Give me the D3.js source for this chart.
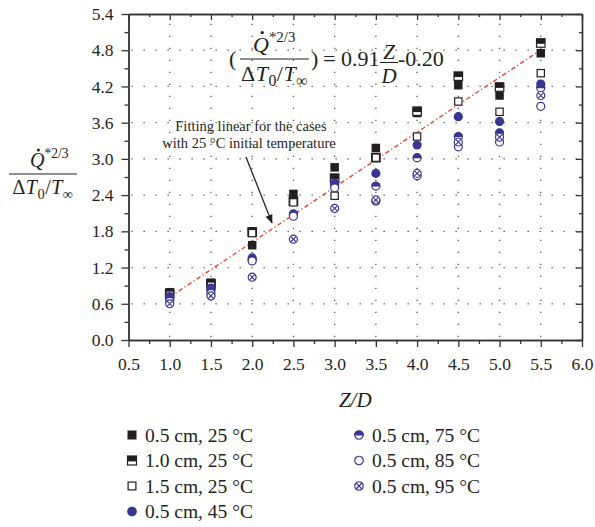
<!DOCTYPE html>
<html>
<head>
<meta charset="utf-8">
<script src="https://cdn.jsdelivr.net/npm/d3@7"></script>
<style>
  body { margin: 0; background: #fff; }
  text { font-family: "Liberation Serif", "DejaVu Serif", serif; fill: #231f20; }
</style>
</head>
<body>
<div id="chart"></div>
<script>
// Z/D positions and the seven series
const zd = [1.0, 1.5, 2.0, 2.5, 3.0, 3.5, 4.0, 4.5, 5.0, 5.5];
const s05c25 = [0.79, 0.95, 1.57, 2.42, 2.86, 3.18, 3.76, 4.22, 4.05, 4.75];
const s10c25 = [0.77, 0.93, 1.79, 2.30, 2.68, 3.02, 3.79, 4.37, 4.19, 4.92];
const s15c25 = [0.75, 0.90, 1.77, 2.28, 2.39, 3.02, 3.37, 3.95, 3.78, 4.42];
const s05c45 = [0.72, 0.86, 1.36, 2.09, 2.60, 2.76, 3.23, 3.70, 3.62, 4.24];
const s05c75 = [0.68, 0.82, 1.33, 2.07, 2.57, 2.55, 3.02, 3.37, 3.43, 4.18];
const s05c85 = [0.64, 0.77, 1.31, 2.05, 2.52, 2.30, 2.72, 3.20, 3.28, 3.87];
const s05c95 = [0.60, 0.73, 1.04, 1.67, 2.18, 2.32, 2.76, 3.28, 3.36, 4.05];

const seriesLabels = ['0.5 cm, 25 °C', '1.0 cm, 25 °C', '1.5 cm, 25 °C', '0.5 cm, 45 °C',
                      '0.5 cm, 75 °C', '0.5 cm, 85 °C', '0.5 cm, 95 °C'];
const seriesMarkers = ['sq', 'sqHalf', 'sqOpen', 'ci', 'ciHalf', 'ciOpen', 'ciX'];
const seriesValues = [s05c25, s10c25, s15c25, s05c45, s05c75, s05c85, s05c95];

const xTicks = [0.5, 1.0, 1.5, 2.0, 2.5, 3.0, 3.5, 4.0, 4.5, 5.0, 5.5, 6.0];
const yTicks = [0.0, 0.6, 1.2, 1.8, 2.4, 3.0, 3.6, 4.2, 4.8, 5.4];

// fitted line: Q = 0.91 Z/D - 0.20, drawn over 1.0 .. 5.5
const fitSlope = 0.91, fitIntercept = -0.20;
const fitRange = [1.0, 5.5];

const BLACK = '#231f20';
const BLUE = '#3a3593';

const W = 595, H = 527;
const svg = d3.select('#chart').append('svg').attr('width', W).attr('height', H);

const x = d3.scaleLinear().domain([0.5, 6.0]).range([128.5, 582]);
const y = d3.scaleLinear().domain([0, 5.4]).range([340, 14]);

const xMinor = d3.range(0.75, 6.0, 0.5);
const yMinor = d3.range(0.3, 5.4, 0.6);

// dotted grid
const grid = svg.append('g').attr('stroke', '#555').attr('stroke-width', 1.3)
  .attr('stroke-dasharray', '1.3,10.7').attr('fill', 'none');
grid.selectAll('.gx').data(xTicks.slice(1, -1)).enter().append('line')
  .attr('x1', d => x(d)).attr('x2', d => x(d)).attr('y1', y(0) - 3).attr('y2', y(5.4));
grid.selectAll('.gy').data(yTicks.slice(1, -1)).enter().append('line')
  .attr('y1', d => y(d)).attr('y2', d => y(d)).attr('x1', x(0.5) + 3).attr('x2', x(6.0));

// axes (frame on four sides)
function styleAxis(g) {
  g.select('.domain').attr('stroke', '#333').attr('stroke-width', 1.4);
  g.selectAll('.tick line').attr('stroke', '#333').attr('stroke-width', 1.3);
  g.selectAll('.tick text').style('font-family', '"Liberation Serif", serif')
    .style('font-size', '17.5px').attr('fill', BLACK);
}
const fmt = d3.format('.1f');

svg.append('g').attr('transform', `translate(0,${y(0)})`)
  .call(d3.axisBottom(x).tickValues(xTicks).tickSize(7).tickSizeOuter(0).tickPadding(10).tickFormat(fmt))
  .call(styleAxis).call(g => g.selectAll('.tick text').attr('dy', '0.75em'));
svg.append('g').attr('transform', `translate(0,${y(0)})`)
  .call(d3.axisBottom(x).tickValues(xMinor).tickSize(4).tickSizeOuter(0).tickFormat(''))
  .call(styleAxis);

svg.append('g').attr('transform', `translate(${x(0.5)},0)`)
  .call(d3.axisLeft(y).tickValues(yTicks).tickSize(7).tickSizeOuter(0).tickPadding(8).tickFormat(fmt))
  .call(styleAxis);
svg.append('g').attr('transform', `translate(${x(0.5)},0)`)
  .call(d3.axisLeft(y).tickValues(yMinor).tickSize(4).tickSizeOuter(0).tickFormat(''))
  .call(styleAxis);

svg.append('g').attr('transform', `translate(0,${y(5.4)})`)
  .call(d3.axisTop(x).tickValues(xTicks).tickSize(-6).tickSizeOuter(0).tickFormat(''))
  .call(styleAxis);
svg.append('g').attr('transform', `translate(0,${y(5.4)})`)
  .call(d3.axisTop(x).tickValues(xMinor).tickSize(-3).tickSizeOuter(0).tickFormat(''))
  .call(styleAxis);

svg.append('g').attr('transform', `translate(${x(6.0)},0)`)
  .call(d3.axisRight(y).tickValues(yTicks).tickSize(-6).tickSizeOuter(0).tickFormat(''))
  .call(styleAxis);
svg.append('g').attr('transform', `translate(${x(6.0)},0)`)
  .call(d3.axisRight(y).tickValues(yMinor).tickSize(-3).tickSizeOuter(0).tickFormat(''))
  .call(styleAxis);

// x axis title
svg.append('text').attr('x', (x(0.5) + x(6.0)) / 2).attr('y', 407)
  .attr('text-anchor', 'middle').style('font-size', '21px').style('font-style', 'italic').text('Z/D');

// Q*2/3 over dT0/Tinf fraction
function qFraction(g, left, right, barY, fs, numX) {
  const cx = (left + right) / 2;
  const num = g.append('text').attr('y', barY - fs * 0.33).attr('x', numX)
    .style('font-size', fs + 'px');
  num.append('tspan').style('font-style', 'italic').text('Q');
  num.append('tspan').attr('dy', -fs * 0.45).style('font-size', (fs * 0.68) + 'px').text('*2/3');
  g.append('circle').attr('cx', numX + fs * 0.42).attr('cy', barY - fs * 1.2).attr('r', fs * 0.075).attr('fill', BLACK);
  g.append('line').attr('x1', left).attr('x2', right).attr('y1', barY).attr('y2', barY)
    .attr('stroke', BLACK).attr('stroke-width', 1.1);
  const den = g.append('text').attr('x', cx).attr('y', barY + fs * 1.02)
    .attr('text-anchor', 'middle').style('font-size', fs + 'px').style('letter-spacing', '0.5px');
  den.append('tspan').text('Δ');
  den.append('tspan').style('font-style', 'italic').text('T');
  den.append('tspan').attr('dy', fs * 0.22).style('font-size', (fs * 0.72) + 'px').text('0');
  den.append('tspan').attr('dy', -fs * 0.22).text('/');
  den.append('tspan').style('font-style', 'italic').text('T');
  den.append('tspan').attr('dy', fs * 0.22).style('font-size', (fs * 0.72) + 'px').text('∞');
}

// y axis label
qFraction(svg.append('g'), 9, 77, 174, 20, 30);

// equation in the plot
const eq = svg.append('g');
eq.append('text').attr('x', 229).attr('y', 66).style('font-size', '22px').text('(');
qFraction(eq, 240, 309, 59, 22, 253);
eq.append('text').attr('x', 311).attr('y', 66).style('font-size', '22px').text(')');
eq.append('text').attr('x', 323).attr('y', 66).style('font-size', '22px').text('= 0.91');
eq.append('text').attr('x', 389).attr('y', 59).attr('text-anchor', 'middle')
  .style('font-size', '21px').style('font-style', 'italic').text('Z');
eq.append('line').attr('x1', 380).attr('x2', 398).attr('y1', 62.5).attr('y2', 62.5)
  .attr('stroke', BLACK).attr('stroke-width', 1.1);
eq.append('text').attr('x', 389).attr('y', 83).attr('text-anchor', 'middle')
  .style('font-size', '21px').style('font-style', 'italic').text('D');
eq.append('text').attr('x', 398).attr('y', 66).style('font-size', '22px').text('-0.20');

// fitted line
svg.append('path')
  .datum(fitRange)
  .attr('fill', 'none').attr('stroke', '#e8482b').attr('stroke-width', 1.4)
  .attr('stroke-dasharray', '4.5,2.5,1.3,2.5')
  .attr('d', d3.line().x(d => x(d)).y(d => y(fitSlope * d + fitIntercept)));

// annotation + arrow
svg.append('defs').append('marker').attr('id', 'arrow').attr('viewBox', '0 0 10 10')
  .attr('refX', 9).attr('refY', 5).attr('markerWidth', 9).attr('markerHeight', 9)
  .attr('markerUnits', 'userSpaceOnUse').attr('orient', 'auto')
  .append('path').attr('d', 'M0,1 L10,5 L0,9 z').attr('fill', BLACK);
svg.append('text').attr('x', 251).attr('y', 131).attr('text-anchor', 'middle')
  .style('font-size', '14.5px').text('Fitting linear for the cases');
svg.append('text').attr('x', 249).attr('y', 148).attr('text-anchor', 'middle')
  .style('font-size', '14.5px').text('with 25 °C initial temperature');
svg.append('line')
  .attr('x1', x(1.925)).attr('y1', y(3.03)).attr('x2', x(2.24)).attr('y2', y(1.94))
  .attr('stroke', BLACK).attr('stroke-width', 1.3).attr('marker-end', 'url(#arrow)');

// markers
function drawMarker(g, type, s) {
  const h = s / 2, r = s * 0.54;
  if (type === 'sq') {
    g.append('rect').attr('x', -h).attr('y', -h).attr('width', s).attr('height', s).attr('fill', BLACK);
  } else if (type === 'sqHalf') {
    g.append('rect').attr('x', -h).attr('y', -h).attr('width', s).attr('height', s)
      .attr('fill', '#fff').attr('stroke', BLACK).attr('stroke-width', 1.2);
    g.append('rect').attr('x', -h).attr('y', -h).attr('width', s).attr('height', s * 0.6).attr('fill', BLACK);
  } else if (type === 'sqOpen') {
    g.append('rect').attr('x', -h + 0.6).attr('y', -h + 0.6).attr('width', s - 1.2).attr('height', s - 1.2)
      .attr('fill', '#fff').attr('stroke', BLACK).attr('stroke-width', 1.2);
  } else if (type === 'ci') {
    g.append('circle').attr('r', r).attr('fill', BLUE);
  } else if (type === 'ciHalf') {
    g.append('circle').attr('r', r - 0.6).attr('fill', '#fff').attr('stroke', BLUE).attr('stroke-width', 1.2);
    g.append('path').attr('d', `M${-r},0.5 A${r},${r} 0 0 1 ${r},0.5 Z`).attr('fill', BLUE);
  } else if (type === 'ciOpen') {
    g.append('circle').attr('r', r - 0.6).attr('fill', '#fff').attr('stroke', BLUE).attr('stroke-width', 1.2);
  } else if (type === 'ciX') {
    const k = (r - 0.6) * 0.707;
    g.append('circle').attr('r', r - 0.6).attr('fill', '#fff').attr('stroke', BLUE).attr('stroke-width', 1.2);
    g.append('path').attr('d', `M${-k},${-k}L${k},${k}M${-k},${k}L${k},${-k}`)
      .attr('stroke', BLUE).attr('stroke-width', 1.1);
  }
}

seriesValues.forEach((vals, i) => {
  svg.append('g').selectAll('g').data(vals).enter().append('g')
    .attr('transform', (d, j) => `translate(${x(zd[j])},${y(d)})`)
    .each(function () { drawMarker(d3.select(this), seriesMarkers[i], 8.5); });
});

// legend
const legendCols = [132, 359];
const legendRows = [435, 460.5, 486, 511.5];
seriesLabels.forEach((lab, i) => {
  const col = i < 4 ? 0 : 1, row = i < 4 ? i : i - 4;
  const g = svg.append('g').attr('transform', `translate(${legendCols[col]},${legendRows[row]})`);
  drawMarker(g, seriesMarkers[i], 9);
  g.append('text').attr('x', 13).attr('y', 6.5).style('font-size', '19.5px').text(lab);
});
</script>
</body>
</html>
